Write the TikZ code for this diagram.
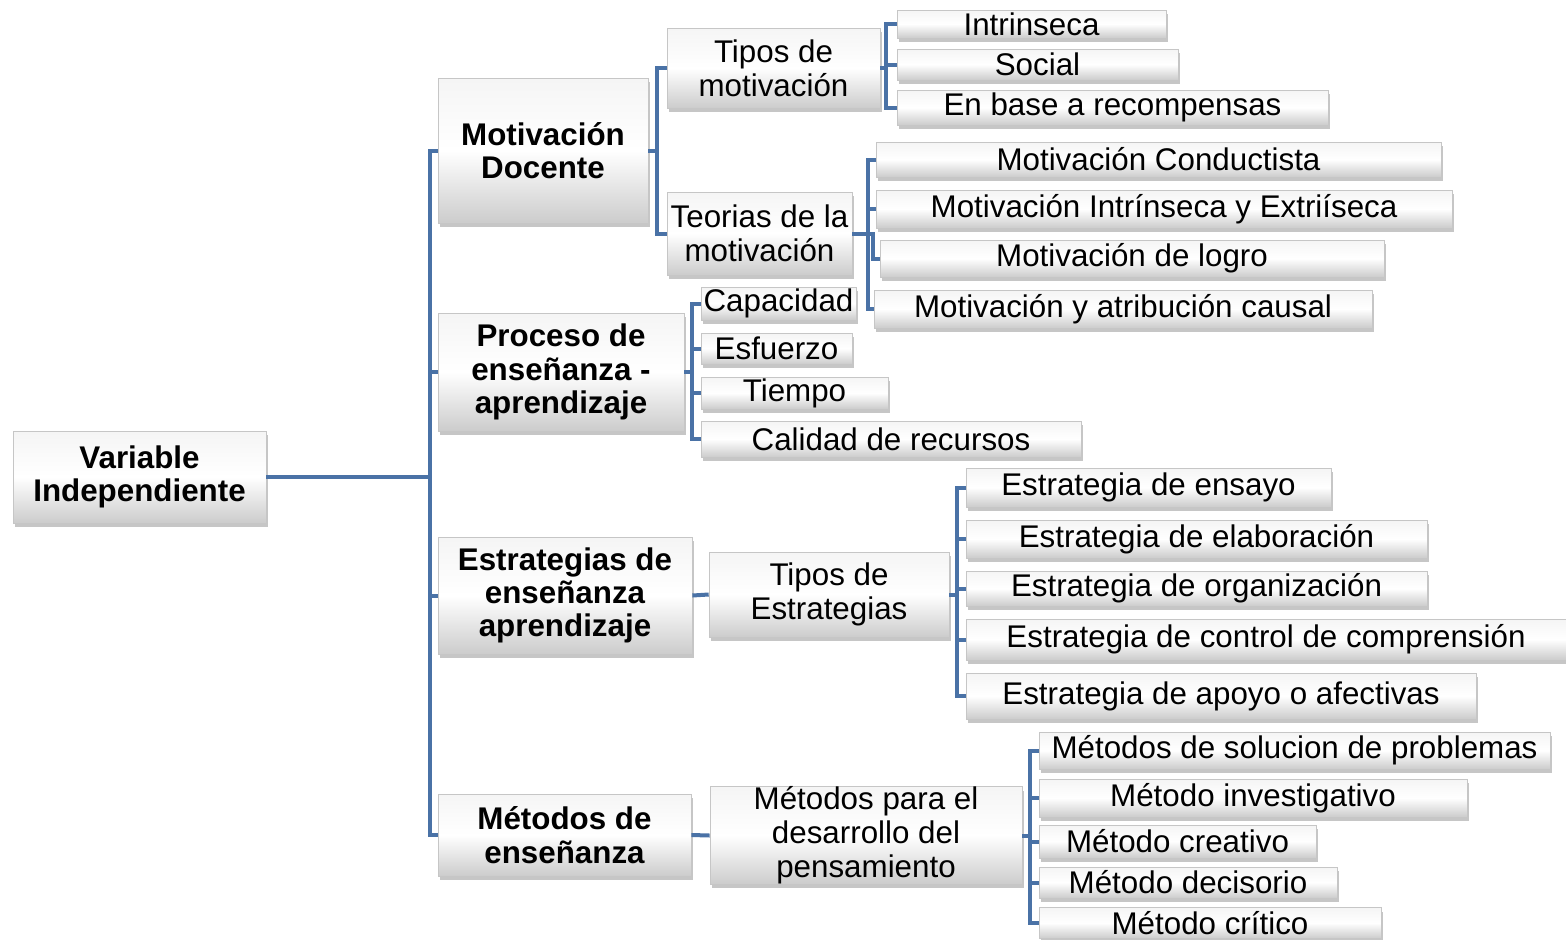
\documentclass[tikz,border=0pt]{standalone}
\usepackage{fontspec}
\setmainfont{Liberation Sans}
\usepackage{tikz}
\usetikzlibrary{shadows}
\definecolor{azulrama}{RGB}{74,114,166}
\tikzstyle{caja}=[draw=gray!45,line width=0.5pt,top color=gray!8,bottom color=gray!40,middle color=white,inner sep=0pt,align=center,drop shadow={shadow xshift=1.5pt,shadow yshift=-3pt,opacity=0.45}]
\tikzstyle{nivel}=[caja,font=\bfseries\fontsize{23.5}{25}\selectfont]
\tikzstyle{hoja}=[caja,font=\fontsize{23.5}{25.5}\selectfont]
\tikzstyle{rama}=[draw=azulrama,line width=3pt]
\tikzset{tam/.style 2 args={minimum width=#1*0.75pt,minimum height=#2*0.75pt}}

\begin{document}
\begin{tikzpicture}[x=0.75pt,y=-0.75pt]
	\useasboundingbox (0,0) rectangle (1566,939);
	% raiz y primer nivel
	\node[nivel,tam={253}{92}] (variable) at (139.5,477) {Variable\\Independiente};
	\node[nivel,tam={210}{145}] (motdoc) at (543,150.5) {Motivación\\Docente};
	\node[nivel,tam={246}{118}] (proceso) at (561,372) {Proceso de\\enseñanza -\\aprendizaje};
	\node[nivel,tam={254}{117}] (estrat) at (565,595.5) {Estrategias de\\enseñanza\\aprendizaje};
	\node[nivel,tam={253}{82}] (metodos) at (564.5,835) {Métodos de\\enseñanza};
	
	% segundo nivel
	\node[hoja,tam={213}{80}] (tiposmot) at (773.5,68) {Tipos de\\motivación};
	\node[hoja,tam={185}{83}] (teorias) at (759.5,233.5) {Teorias de la\\motivación};
	\node[hoja,tam={240}{85}] (tiposest) at (829,594.5) {Tipos de\\Estrategias};
	\node[hoja,tam={312}{97}] (metpens) at (866,835.5) {Métodos para el\\desarrollo del\\pensamiento};
	
	% hojas
	\node[hoja,tam={269}{28}] (intrinseca) at (1031.5,24) {Intrinseca};
	\node[hoja,tam={281}{31}] (social) at (1037.5,64.5) {Social};
	\node[hoja,tam={431}{35}] (recompensas) at (1112.5,107.5) {En base a recompensas};
	
	\node[hoja,tam={565}{35}] (conductista) at (1158.5,159.5) {Motivación Conductista};
	\node[hoja,tam={576}{38}] (intrextr) at (1164,209) {Motivación Intrínseca y Extriíseca};
	\node[hoja,tam={504}{37}] (logro) at (1132,258.5) {Motivación de logro};
	\node[hoja,tam={498}{38}] (atribucion) at (1123,309) {Motivación y atribución causal};
	
	\node[hoja,tam={155}{33}] (capacidad) at (778.5,303.5) {Capacidad};
	\node[hoja,tam={151}{31}] (esfuerzo) at (776.5,348.5) {Esfuerzo};
	\node[hoja,tam={187}{32}] (tiempo) at (794.5,393) {Tiempo};
	\node[hoja,tam={380}{36}] (calidad) at (891,439) {Calidad de recursos};
	
	\node[hoja,tam={365}{39}] (ensayo) at (1148.5,487.5) {Estrategia de ensayo};
	\node[hoja,tam={461}{38}] (elaboracion) at (1196.5,539) {Estrategia de elaboración};
	\node[hoja,tam={461}{35}] (organizacion) at (1196.5,588.5) {Estrategia de organización};
	\node[hoja,tam={600}{41}] (control) at (1266,639.5) {Estrategia de control de comprensión};
	\node[hoja,tam={510}{46}] (apoyo) at (1221,696) {Estrategia de apoyo o afectivas};
	
	\node[hoja,tam={511}{37}] (solucion) at (1294.5,750.5) {Métodos de solucion de problemas};
	\node[hoja,tam={428}{38}] (investigativo) at (1253,798) {Método investigativo};
	\node[hoja,tam={277}{33}] (creativo) at (1177.5,841.5) {Método creativo};
	\node[hoja,tam={298}{31}] (decisorio) at (1188,882.5) {Método decisorio};
	\node[hoja,tam={342}{31}] (critico) at (1210,923) {Método crítico};
	
	% puntos de las llaves
	\coordinate (llave0) at (430,477);
	\coordinate (llave1) at (657,150.5);
	\coordinate (llave2) at (886,68);
	\coordinate (llave3) at (868,233.5);
	\coordinate (llave4) at (692,372);
	\coordinate (llave5) at (957,594.5);
	\coordinate (llave6) at (1030,835.5);
	
	\draw[rama] (variable.east) -- (llave0);
	\foreach \n in {motdoc,proceso,estrat,metodos}
		\draw[rama] (llave0) |- (\n.west);
	
	\draw[rama] (motdoc.east) -- (llave1);
	\foreach \n in {tiposmot,teorias}
		\draw[rama] (llave1) |- (\n.west);
	
	\draw[rama] (tiposmot.east) -- (llave2);
	\foreach \n in {intrinseca,social,recompensas}
		\draw[rama] (llave2) |- (\n.west);
	
	\draw[rama] (teorias.east) -- (llave3);
	\foreach \n in {conductista,intrextr,atribucion}
		\draw[rama] (llave3) |- (\n.west);
	\draw[rama] (llave3) -- ++(5,0) |- (logro.west);
	
	\draw[rama] (proceso.east) -- (llave4);
	\foreach \n in {capacidad,esfuerzo,tiempo,calidad}
		\draw[rama] (llave4) |- (\n.west);
	
	\draw[rama] (estrat.east) -- (tiposest.west);
	\draw[rama] (tiposest.east) -- (llave5);
	\foreach \n in {ensayo,elaboracion,organizacion,control,apoyo}
		\draw[rama] (llave5) |- (\n.west);
	
	\draw[rama] (metodos.east) -- (metpens.west);
	\draw[rama] (metpens.east) -- (llave6);
	\foreach \n in {solucion,investigativo,creativo,decisorio,critico}
		\draw[rama] (llave6) |- (\n.west);
\end{tikzpicture}
\end{document}
